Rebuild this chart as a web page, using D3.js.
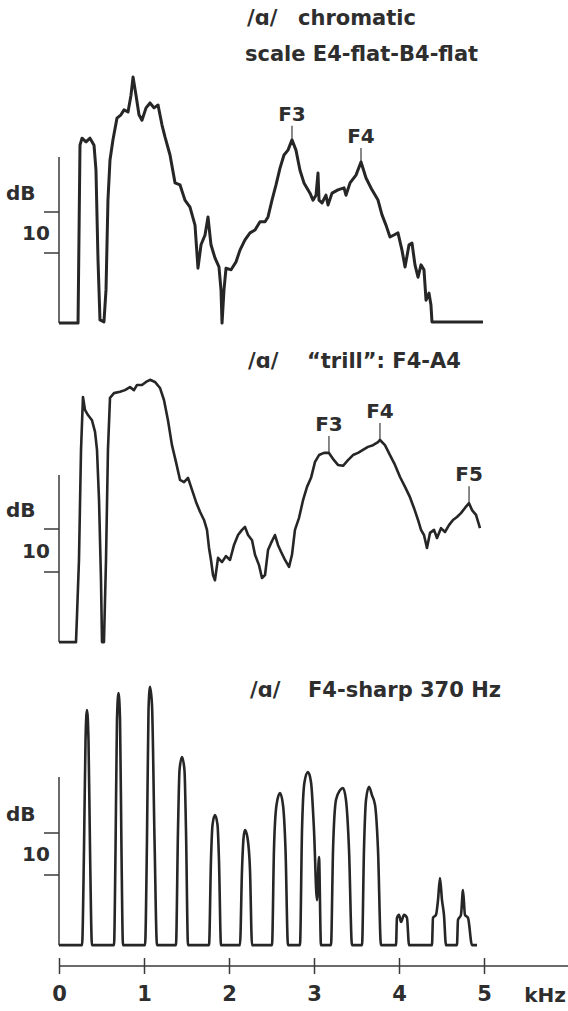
<!DOCTYPE html>
<html>
<head>
<meta charset="utf-8">
<script src="https://cdn.jsdelivr.net/npm/d3@7"></script>
<style>
body { margin: 0; background: #fff; }
svg text { font-family: "DejaVu Sans", sans-serif; font-weight: bold; fill: #2e2e2e; }
</style>
</head>
<body>
<div id="chart"></div>
<script>

// spectrum of /ɑ/ sung on a chromatic scale, [kHz, dB]
var chromaticSpectrum = [
    [0,2.9],[0.224,2.9],[0.247,46.3],[0.271,48.0],[0.318,47.1],[0.365,48.0],[0.412,46.3],[0.435,40.2],
    [0.459,18.3],[0.482,3.7],[0.529,3.2],[0.553,11.0],[0.576,32.9],[0.6,42.7],[0.635,47.6],[0.682,52.9],
    [0.729,53.7],[0.765,54.9],[0.812,54.4],[0.847,58.5],[0.871,62.9],[0.906,58.5],[0.941,53.7],[0.976,52.4],
    [1.024,55.4],[1.071,56.6],[1.118,55.4],[1.165,56.1],[1.212,51.2],[1.247,48.3],[1.306,43.9],[1.365,37.1],
    [1.424,36.6],[1.482,32.9],[1.541,31.2],[1.6,26.8],[1.635,16.3],[1.671,22.0],[1.718,24.4],[1.753,28.8],
    [1.788,22.0],[1.835,18.8],[1.882,16.6],[1.906,11.0],[1.918,2.9],[1.941,11.0],[1.965,16.3],[2.024,15.9],
    [2.082,17.8],[2.129,20.7],[2.188,23.2],[2.247,24.9],[2.306,25.6],[2.365,27.6],[2.424,27.6],[2.459,28.8],
    [2.506,32.9],[2.553,36.6],[2.6,40.7],[2.647,43.9],[2.694,45.1],[2.741,47.6],[2.788,45.1],[2.835,40.2],
    [2.882,37.1],[2.953,34.6],[2.988,32.9],[3.024,34.1],[3.047,39.5],[3.059,32.9],[3.094,32.2],[3.141,34.1],
    [3.165,31.7],[3.212,34.6],[3.282,35.4],[3.353,35.9],[3.376,34.1],[3.424,37.1],[3.494,39.0],[3.553,42.2],
    [3.612,38.3],[3.682,35.4],[3.753,32.9],[3.8,29.3],[3.847,26.8],[3.894,23.9],[3.941,24.4],[3.988,24.9],
    [4.035,20.7],[4.071,16.6],[4.118,22.0],[4.153,22.4],[4.188,17.1],[4.224,14.1],[4.259,17.1],[4.294,15.9],
    [4.318,8.5],[4.353,10.2],[4.376,7.3],[4.388,3.2],[4.988,3.2]
];
var chromaticFormantNames = ["F3", "F4"];
var chromaticFormantFreqs = [2.741, 3.553];

// spectrum of the F4-A4 "trill"
var trillSpectrum = [
    [0,3.7],[0.2,3.7],[0.212,10.0],[0.235,22.8],[0.259,48.4],[0.282,60.7],[0.306,57.7],[0.341,56.5],
    [0.388,55.3],[0.424,52.6],[0.447,48.4],[0.471,36.7],[0.494,18.1],[0.506,3.7],[0.529,3.7],[0.553,22.8],
    [0.576,48.4],[0.6,60.5],[0.647,61.6],[0.718,61.9],[0.776,62.3],[0.835,63.0],[0.882,62.3],[0.918,63.5],
    [0.976,63.5],[1.024,64.2],[1.071,64.7],[1.129,64.2],[1.188,62.8],[1.235,60.0],[1.282,55.3],[1.329,49.5],
    [1.376,45.6],[1.424,41.4],[1.471,40.9],[1.518,41.9],[1.565,39.1],[1.612,36.3],[1.659,34.0],[1.706,32.1],
    [1.741,29.8],[1.765,25.6],[1.788,22.8],[1.812,19.3],[1.835,18.1],[1.871,23.3],[1.918,22.3],[1.965,23.7],
    [2.012,22.8],[2.059,26.3],[2.106,28.6],[2.153,29.8],[2.188,30.5],[2.224,28.6],[2.271,27.4],[2.306,24.0],
    [2.353,21.6],[2.388,18.6],[2.424,19.3],[2.459,25.1],[2.494,26.7],[2.541,28.6],[2.576,26.3],[2.612,24.7],
    [2.659,22.8],[2.706,21.2],[2.741,24.0],[2.776,29.8],[2.824,32.6],[2.871,36.7],[2.918,39.8],[2.965,41.9],
    [3.012,45.6],[3.059,47.2],[3.118,47.7],[3.176,47.7],[3.235,46.0],[3.282,44.9],[3.341,44.7],[3.4,46.0],
    [3.459,47.2],[3.518,47.7],[3.576,48.4],[3.635,49.1],[3.694,49.5],[3.753,50.2],[3.776,50.7],[3.835,49.5],
    [3.894,47.2],[3.953,44.9],[4.012,42.1],[4.071,39.8],[4.129,37.4],[4.176,34.9],[4.224,32.1],[4.259,29.8],
    [4.294,28.6],[4.329,25.6],[4.365,29.1],[4.412,29.8],[4.447,27.9],[4.494,30.2],[4.541,29.3],[4.588,30.9],
    [4.635,32.1],[4.682,32.8],[4.729,33.7],[4.776,34.9],[4.824,36.0],[4.859,34.4],[4.906,33.3],[4.953,30.2]
];
var trillFormantNames = ["F3", "F4", "F5"];
var trillFormantFreqs = [3.176, 3.776, 4.824];

// line spectrum of F4-sharp (370 Hz), harmonic lobes
var sharpSpectrum = [
    [0,3.3],
    [0.271,3.3],[0.294,26.0],[0.312,52.1],[0.329,59.3],[0.347,52.1],[0.365,26.0],[0.388,3.3],
    [0.647,3.3],[0.665,26.0],[0.682,56.9],[0.700,63.3],[0.718,56.9],[0.735,26.0],[0.753,3.3],
    [1.012,3.3],[1.035,28.3],[1.053,59.3],[1.071,64.8],[1.094,60.5],[1.124,28.3],[1.153,3.3],
    [1.376,3.3],[1.4,30.7],[1.418,45.0],[1.447,48.1],[1.476,45.0],[1.494,30.7],[1.518,3.3],
    [1.765,3.3],[1.788,23.6],[1.806,31.9],[1.835,34.3],[1.865,31.9],[1.882,23.6],[1.906,3.3],
    [2.129,3.3],[2.153,21.2],[2.171,28.8],[2.188,30.7],[2.218,28.8],[2.247,21.2],[2.271,3.3],
    [2.506,3.3],[2.529,26.0],[2.559,36.7],[2.6,39.5],[2.635,36.7],[2.665,26.0],[2.694,3.3],
    [2.835,3.3],[2.859,30.7],[2.888,42.1],[2.929,44.5],[2.965,42.1],[3.0,30.7],[3.035,14.0],[3.059,24.3],[3.082,3.3],
    [3.2,3.3],[3.224,26.0],[3.259,37.9],[3.306,40.2],[3.341,40.7],[3.376,37.9],[3.412,26.0],[3.447,3.3],
    [3.565,3.3],[3.588,26.0],[3.612,37.9],[3.647,41.0],[3.682,39.0],[3.718,36.7],[3.753,26.0],[3.788,3.3],
    [3.965,3.3],[3.976,9.8],[4.0,10.5],[4.024,8.8],[4.059,10.5],[4.094,9.8],[4.118,3.3],
    [4.388,3.3],[4.4,9.8],[4.435,10.5],[4.459,14.0],[4.482,19.3],[4.506,14.0],[4.529,10.5],[4.553,3.3],
    [4.682,3.3],[4.694,9.3],[4.729,10.5],[4.753,16.4],[4.776,10.5],[4.812,9.8],[4.859,3.3],
    [4.918,3.3]
];

var kHzTicks = [0, 1, 2, 3, 4, 5];
var dbTicks = [20, 30];   // marks a 10 dB step
var dbStepLabel = "10";

var width = 568, height = 1011;

var svg = d3.select("#chart").append("svg")
    .attr("width", width)
    .attr("height", height);

var x = d3.scaleLinear().domain([0, 5]).range([59, 484]);

// one vertical dB scale per panel, fixed by where its two ticks sit
var panels = [
    {data: chromaticSpectrum, tick20: 253, tick30: 212, top: 157, stroke: 3, curve: d3.curveLinear,
     names: chromaticFormantNames, freqs: chromaticFormantFreqs, mark: 14,
     title: [{t: "/ɑ/", x: 247, y: 25}, {t: "chromatic", x: 298, y: 25}, {t: "scale E4-flat-B4-flat", x: 245, y: 61}]},
    {data: trillSpectrum, tick20: 572, tick30: 529, top: 475, stroke: 2.6, curve: d3.curveLinear,
     names: trillFormantNames, freqs: trillFormantFreqs, mark: 17,
     title: [{t: "/ɑ/", x: 248, y: 368}, {t: "\u201Ctrill\u201D: F4-A4", x: 307, y: 368}]},
    {data: sharpSpectrum, tick20: 875, tick30: 833, top: 777, stroke: 2.6, curve: d3.curveMonotoneX,
     names: [], freqs: [], mark: 0,
     title: [{t: "/ɑ/", x: 250, y: 697}, {t: "F4-sharp 370 Hz", x: 308, y: 697}]}
];

panels.forEach(function(p){

    var y = d3.scaleLinear().domain(dbTicks).range([p.tick20, p.tick30]);
    var g = svg.append("g");
    var floorY = y(p.data[0][1]);

    // dB axis
    g.append("line")
        .attr("x1", x(0)).attr("x2", x(0))
        .attr("y1", p.top).attr("y2", floorY)
        .attr("stroke", "#3a3a3a").attr("stroke-width", 1.5);

    g.selectAll(".dbtick").data(dbTicks).enter().append("line")
        .attr("x1", x(0) - 15).attr("x2", x(0))
        .attr("y1", function(d){ return y(d); })
        .attr("y2", function(d){ return y(d); })
        .attr("stroke", "#3a3a3a").attr("stroke-width", 1.5);

    g.append("text")
        .attr("x", 6).attr("y", y(dbTicks[1]) - 12)
        .style("font-size", "20px")
        .text("dB");

    g.append("text")
        .attr("x", 22).attr("y", (y(dbTicks[0]) + y(dbTicks[1])) / 2 + 7)
        .style("font-size", "20px")
        .text(dbStepLabel);

    // spectrum trace
    var line = d3.line()
        .x(function(d){ return x(d[0]); })
        .y(function(d){ return y(d[1]); })
        .curve(p.curve);

    g.append("path")
        .datum(p.data)
        .attr("d", line)
        .attr("fill", "none")
        .attr("stroke", "#262626")
        .attr("stroke-width", p.stroke)
        .attr("stroke-linejoin", "round");

    // formant labels sit on the nearest point of the trace
    p.names.forEach(function(name, i){
        var f = p.freqs[i];
        var pt = p.data.reduce(function(a, b){
            return Math.abs(b[0] - f) < Math.abs(a[0] - f) ? b : a;
        });
        var px = x(pt[0]), py = y(pt[1]);
        g.append("line")
            .attr("x1", px).attr("x2", px)
            .attr("y1", py - 1).attr("y2", py - p.mark)
            .attr("stroke", "#3a3a3a").attr("stroke-width", 1.2);
        g.append("text")
            .attr("x", px).attr("y", py - p.mark - 5)
            .attr("text-anchor", "middle")
            .style("font-size", "20px")
            .text(name);
    });

    // title
    p.title.forEach(function(t){
        g.append("text")
            .attr("x", t.x).attr("y", t.y)
            .style("font-size", "21px")
            .text(t.t);
    });
});

// frequency axis
var axisY = 966;
svg.append("line")
    .attr("x1", x(0)).attr("x2", width)
    .attr("y1", axisY).attr("y2", axisY)
    .attr("stroke", "#3a3a3a").attr("stroke-width", 1.5);

var xAxis = svg.append("g")
    .attr("transform", "translate(0," + (axisY - 8) + ")")
    .call(d3.axisBottom(x).tickValues(kHzTicks).tickSize(16).tickPadding(12).tickFormat(d3.format("d")));

xAxis.select(".domain").remove();
xAxis.selectAll(".tick line").attr("stroke", "#3a3a3a").attr("stroke-width", 1.5);
xAxis.selectAll(".tick text")
    .style("font-family", "DejaVu Sans, sans-serif")
    .style("font-weight", "bold")
    .style("font-size", "21px")
    .attr("fill", "#2e2e2e");

svg.append("text")
    .attr("x", 545).attr("y", 1002)
    .attr("text-anchor", "middle")
    .style("font-size", "20px")
    .text("kHz");

</script>
</body>
</html>
